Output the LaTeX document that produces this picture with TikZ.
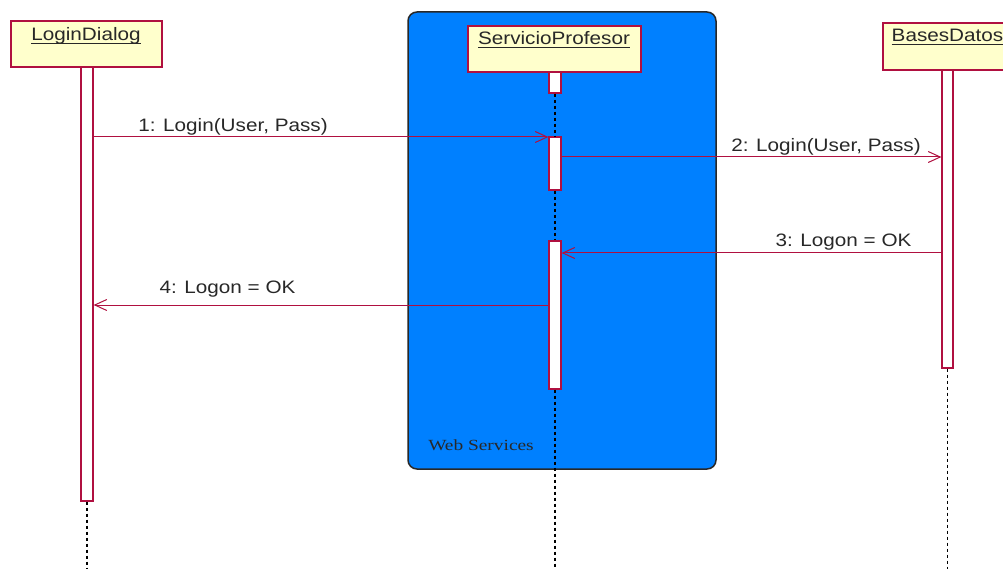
\documentclass[tikz,border=0pt]{standalone}
\usepackage{fontspec}
\newfontfamily\umlfont[FakeStretch=1.15]{Liberation Sans}
\newfontfamily\framefont[FakeStretch=1.25]{Liberation Serif}
\usetikzlibrary{arrows.meta}
\definecolor{umlred}{RGB}{176,16,64}
\definecolor{objfill}{RGB}{255,255,204}
\definecolor{wsblue}{RGB}{0,128,255}
\definecolor{inkgray}{RGB}{40,40,40}
% underline at a fixed depth below the baseline
\newcommand\umlul[1]{\setbox0\hbox{#1}\rlap{\vrule height -2pt depth 3.2pt width \wd0}\box0}

\begin{document}
\begin{tikzpicture}[x=1pt,y=-1pt,
  objbox/.style={draw=umlred, fill=objfill, line width=1.2pt, minimum height=46pt, inner sep=0pt},
  objname/.style={font=\umlfont\fontsize{18}{20}\selectfont, text=inkgray, anchor=base, inner sep=0pt},
  actbar/.style={draw=umlred, fill=white, line width=1.2pt, minimum width=12pt, inner sep=0pt},
  lifeline/.style={draw=black, line width=1.3pt, dash pattern=on 3pt off 3pt},
  msg/.style={draw=umlred, line width=1pt, -{Straight Barb[length=12pt,width=11pt,line width=1pt]}},
  msglabel/.style={font=\umlfont\fontsize{18}{20}\selectfont, text=inkgray, anchor=base, inner sep=0pt},
  wsframe/.style={draw=inkgray, fill=wsblue, line width=1.5pt, rounded corners=9pt, inner sep=0pt}
]
\path[use as bounding box] (0,0) rectangle (1003,569);
\clip (0,0) rectangle (1003,569);
\fill[white] (0,0) rectangle (1003,569);

% Web Services frame
\node[wsframe, minimum width=308pt, minimum height=457pt] (ws) at (562,240.5) {};
\node[font=\framefont\fontsize{15.5}{17}\selectfont, text=inkgray, anchor=base, inner sep=0pt]
  (wslabel) at (481,450) {Web Services};

% object heads
\node[objbox, minimum width=151pt] (ld) at (86.5,44) {};
\node[objbox, minimum width=173pt] (sp) at (554.5,49) {};
\node[objbox, minimum width=129pt, minimum height=47pt] (bd) at (947.5,46.5) {};
\node[objname] (ldname) at (86,41) {\umlul{LoginDialog}};
\node[objname] (spname) at (554,45) {\umlul{ServicioProfesor}};
\node[objname] (bdname) at (947.5,42) {\umlul{BasesDatos}};

% activation bars
\node[actbar, minimum height=434pt] (ldact) at (87,284) {};
\node[actbar, minimum height=21pt] (spact1) at (555,82.5) {};
\node[actbar, minimum height=53pt] (spact2) at (555,163.5) {};
\node[actbar, minimum height=148pt] (spact3) at (555,315) {};
\node[actbar, minimum width=11pt, minimum height=298pt] (bdact) at (947.5,219) {};

% lifelines
\coordinate (ldend) at (87,572);
\coordinate (spend) at (555,572);
\coordinate (bdend) at (947.5,572);
\draw[lifeline] (ldact.south) -- (ldend);
\draw[lifeline] (spact1.south) -- (spact2.north);
\draw[lifeline] (spact2.south) -- (spact3.north);
\draw[lifeline] (spact3.south) -- (spend);
\draw[lifeline] (bdact.south) -- (bdend);

% messages
\draw[msg] (ldact.east |- 0,137) -- (spact2.west |- 0,137);
\draw[msg] (spact2.east |- 0,157) -- (bdact.west |- 0,157);
\draw[msg] (bdact.west |- 0,253) -- (spact3.east |- 0,253);
\draw[msg] (spact3.west |- 0,305) -- (ldact.east |- 0,305);

\node[msglabel] (l1) at (233,132) {1: Login(User, Pass)};
\node[msglabel] (l2) at (826,152) {2: Login(User, Pass)};
\node[msglabel] (l3) at (843.5,247) {3: Logon = OK};
\node[msglabel] (l4) at (227.5,293) {4: Logon = OK};
\end{tikzpicture}
\end{document}
